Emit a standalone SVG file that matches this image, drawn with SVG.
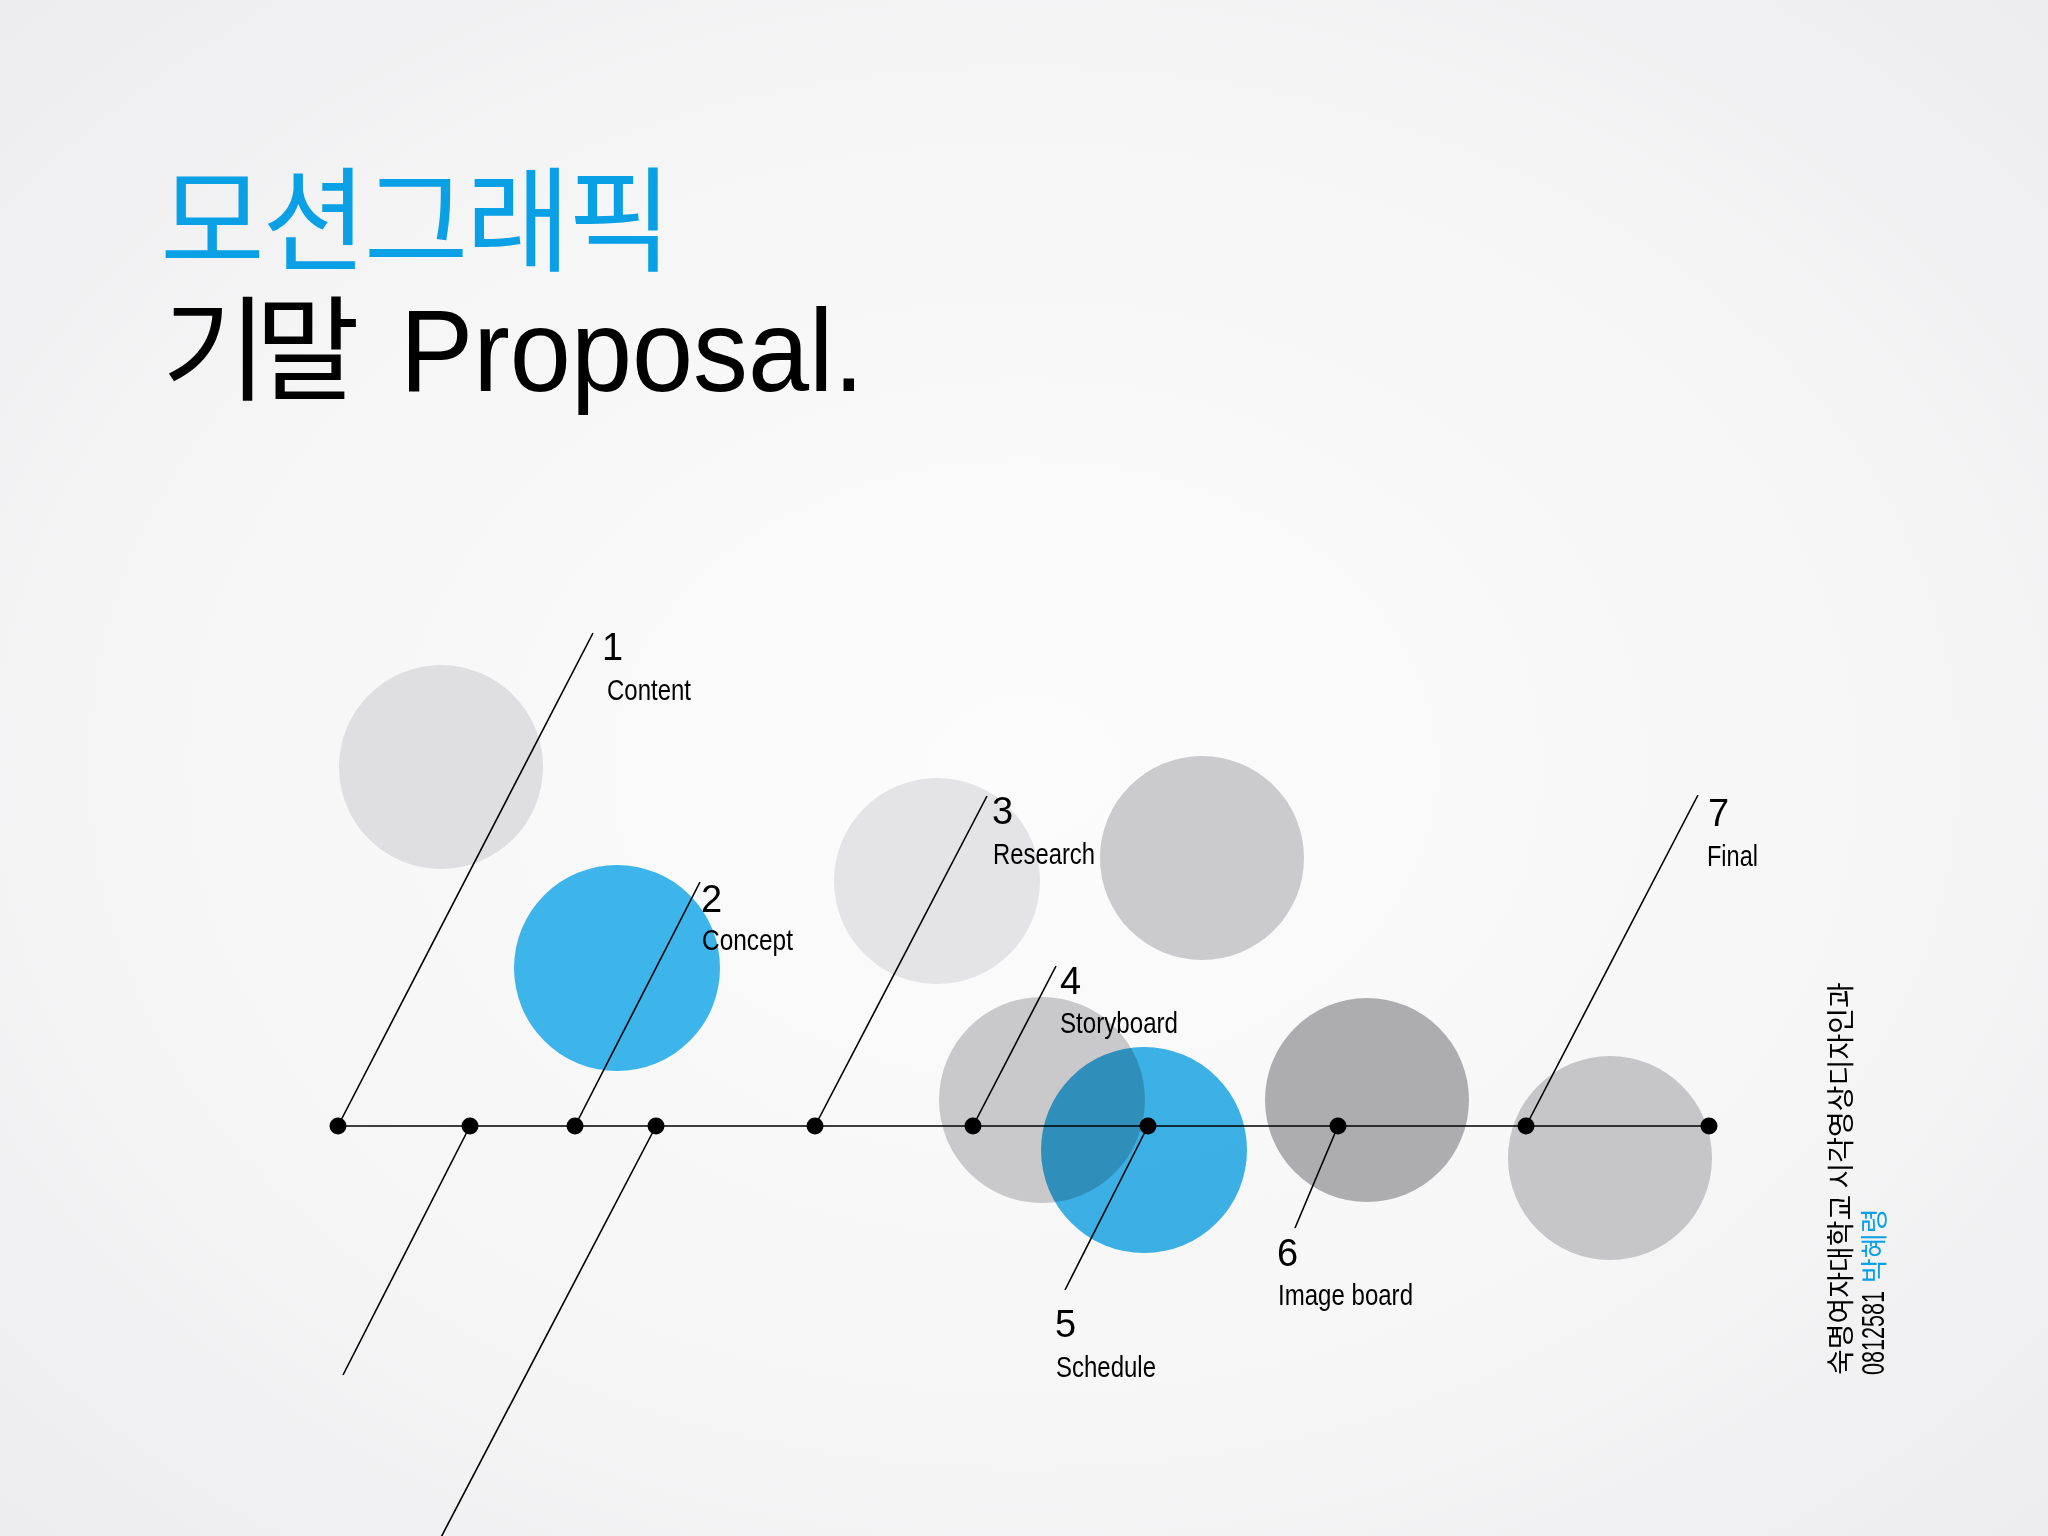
<svg xmlns="http://www.w3.org/2000/svg" width="2048" height="1536" viewBox="0 0 2048 1536">
  <defs>
    <radialGradient id="bg" cx="0.5" cy="0.5" r="0.75">
      <stop offset="0" stop-color="#fcfcfd"/>
      <stop offset="0.55" stop-color="#f6f6f7"/>
      <stop offset="1" stop-color="#ebebed"/>
    </radialGradient>
    <style>
      .num { font-family: "Liberation Sans", Arial, sans-serif; font-size: 38px; fill: #000; }
      .lbl { font-family: "Liberation Sans", Arial, sans-serif; font-size: 29px; fill: #000; }
      .kr { font-family: "Noto Sans CJK KR", sans-serif; }
      .conn line { stroke: #000; stroke-width: 1.6; }
      .axis { stroke: #000; stroke-width: 3.5; }
      .dot { fill: #000; }
      .blue { fill: #3db5ea; }
    </style>
  </defs>
  <rect width="2048" height="1536" fill="url(#bg)"/>

  <g id="title">
    <text class="kr" x="160" y="262" font-size="114" fill="#0aa0e6" letter-spacing="-3">모션그래픽</text>
    <text x="162" y="391" font-size="114" fill="#000"><tspan class="kr" letter-spacing="-12">기말</tspan><tspan x="400" font-family="Liberation Sans, Arial, sans-serif" font-size="116" textLength="464" lengthAdjust="spacingAndGlyphs">Proposal.</tspan></text>
  </g>

  <g id="circles">
    <circle id="c-content" cx="441" cy="767" r="102" fill="#dfdee1"/>
    <circle id="c-research" cx="937" cy="881" r="103" fill="#e4e3e6"/>
    <circle id="c-top" cx="1202" cy="858" r="102" fill="#cbcacd"/>
    <circle id="c-storyboard" cx="1042" cy="1100" r="103" fill="#c9c8cb"/>
    <circle id="c-imageboard" cx="1367" cy="1100" r="102" fill="#adacaf"/>
    <circle id="c-final" cx="1610" cy="1158" r="102" fill="#c6c5c8"/>
    <circle id="c-concept" class="blue" cx="617" cy="968" r="103"/>
    <circle id="c-schedule" class="blue" cx="1144" cy="1150" r="103" style="mix-blend-mode:multiply"/>
  </g>

  <g id="connectors" class="conn">
    <line x1="338" y1="1126" x2="593" y2="633"/>
    <line x1="575" y1="1126" x2="700" y2="882"/>
    <line x1="470" y1="1126" x2="343" y2="1375"/>
    <line x1="656" y1="1126" x2="437" y2="1545"/>
    <line x1="815" y1="1126" x2="987" y2="796"/>
    <line x1="973" y1="1126" x2="1056" y2="966"/>
    <line x1="1148" y1="1126" x2="1065" y2="1290"/>
    <line x1="1338" y1="1126" x2="1295" y2="1228"/>
    <line x1="1526" y1="1126" x2="1698" y2="795"/>
    <line class="axis" x1="338" y1="1126" x2="1709" y2="1126"/>
  </g>

  <g id="dots">
    <circle class="dot" cx="338" cy="1126" r="8.5"/>
    <circle class="dot" cx="470" cy="1126" r="8.5"/>
    <circle class="dot" cx="575" cy="1126" r="8.5"/>
    <circle class="dot" cx="656" cy="1126" r="8.5"/>
    <circle class="dot" cx="815" cy="1126" r="8.5"/>
    <circle class="dot" cx="973" cy="1126" r="8.5"/>
    <circle class="dot" cx="1148" cy="1126" r="8.5"/>
    <circle class="dot" cx="1338" cy="1126" r="8.5"/>
    <circle class="dot" cx="1526" cy="1126" r="8.5"/>
    <circle class="dot" cx="1709" cy="1126" r="8.5"/>
  </g>

  <g id="node-1">
    <text class="num" x="602" y="660">1</text>
    <text class="lbl" x="607" y="700" textLength="84" lengthAdjust="spacingAndGlyphs">Content</text>
  </g>
  <g id="node-2">
    <text class="num" x="701" y="912">2</text>
    <text class="lbl" x="702" y="950" textLength="91" lengthAdjust="spacingAndGlyphs">Concept</text>
  </g>
  <g id="node-3">
    <text class="num" x="992" y="824">3</text>
    <text class="lbl" x="993" y="864" textLength="102" lengthAdjust="spacingAndGlyphs">Research</text>
  </g>
  <g id="node-4">
    <text class="num" x="1060" y="994">4</text>
    <text class="lbl" x="1060" y="1033" textLength="118" lengthAdjust="spacingAndGlyphs">Storyboard</text>
  </g>
  <g id="node-5">
    <text class="num" x="1055" y="1337">5</text>
    <text class="lbl" x="1056" y="1377" textLength="100" lengthAdjust="spacingAndGlyphs">Schedule</text>
  </g>
  <g id="node-6">
    <text class="num" x="1277" y="1266">6</text>
    <text class="lbl" x="1278" y="1305" textLength="135" lengthAdjust="spacingAndGlyphs">Image board</text>
  </g>
  <g id="node-7">
    <text class="num" x="1708" y="826">7</text>
    <text class="lbl" x="1707" y="866" textLength="51" lengthAdjust="spacingAndGlyphs">Final</text>
  </g>

  <g id="credit">
    <text class="kr" transform="translate(1851,1375) rotate(-90)" font-size="28" fill="#000">숙명여자대학교 시각영상디자인과</text>
    <text transform="translate(1884,1375) rotate(-90)" font-size="27" fill="#000"><tspan font-family="Liberation Sans, Arial, sans-serif" font-size="31" textLength="84" lengthAdjust="spacingAndGlyphs">0812581</tspan><tspan class="kr" dx="8" fill="#0aa0e6">박혜령</tspan></text>
  </g>
</svg>
